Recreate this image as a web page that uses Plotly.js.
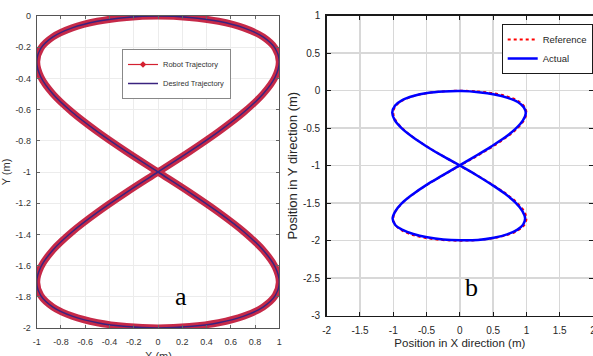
<!DOCTYPE html>
<html>
<head>
<meta charset="utf-8">
<script src="https://cdn.plot.ly/plotly-3.0.1.min.js"></script>
<style>html,body{margin:0;padding:0;background:#fff;}#chart{width:593px;height:356px;}</style>
</head>
<body>
<div id="chart"></div>
<script>
// ---- Panel a: desired / robot trajectory ----
const desiredX = [0, 0.259, 0.5, 0.707, 0.866, 0.966, 1, 0.966, 0.866, 0.707, 0.5, 0.259, 0,
  -0.259, -0.5, -0.707, -0.866, -0.966, -1, -0.966, -0.866, -0.707, -0.5, -0.259, 0,
  0.259, 0.5, 0.707, 0.866, 0.966, 1, 0.966, 0.866, 0.707, 0.5, 0.259, 0,
  -0.259, -0.5, -0.707, -0.866, -0.966, -1, -0.966, -0.866, -0.707, -0.5, -0.259, 0];
const desiredY = [0, -0.009, -0.034, -0.076, -0.134, -0.207, -0.293, -0.391, -0.5, -0.617, -0.741, -0.870, -1,
  -1.130, -1.259, -1.383, -1.5, -1.609, -1.707, -1.793, -1.866, -1.924, -1.966, -1.991, -2,
  -1.991, -1.966, -1.924, -1.866, -1.793, -1.707, -1.609, -1.5, -1.383, -1.259, -1.130, -1,
  -0.870, -0.741, -0.617, -0.5, -0.391, -0.293, -0.207, -0.134, -0.076, -0.034, -0.009, 0];
const robotX = desiredX;
const robotY = desiredY;

// ---- Panel b: reference / actual ----
const refX = desiredX;
const refY = desiredY;
const actX = [0.03, 0.28, 0.52, 0.72, 0.87, 0.96, 0.99, 0.945, 0.835, 0.675, 0.47, 0.235, -0.01,
  -0.26, -0.5, -0.705, -0.87, -0.97, -1.01, -0.97, -0.86, -0.70, -0.49, -0.25, 0.01,
  0.27, 0.51, 0.71, 0.86, 0.95, 0.98, 0.94, 0.84, 0.68, 0.475, 0.24, -0.005,
  -0.26, -0.505, -0.715, -0.875, -0.98, -1.015, -0.975, -0.865, -0.70, -0.49, -0.25, 0.03];
const actY = [-0.005, -0.02, -0.05, -0.095, -0.15, -0.22, -0.30, -0.40, -0.51, -0.625, -0.745, -0.872, -1.0,
  -1.13, -1.255, -1.38, -1.5, -1.61, -1.705, -1.79, -1.855, -1.91, -1.955, -1.985, -1.995,
  -1.99, -1.96, -1.915, -1.855, -1.785, -1.70, -1.605, -1.495, -1.375, -1.25, -1.12, -0.995,
  -0.87, -0.74, -0.615, -0.5, -0.39, -0.29, -0.2, -0.125, -0.07, -0.03, -0.01, -0.005];

// ---- tick labels ----
const aXTicks = [-1, -0.8, -0.6, -0.4, -0.2, 0, 0.2, 0.4, 0.6, 0.8, 1];
const aXTickText = ['-1', '-0.8', '-0.6', '-0.4', '-0.2', '0', '0.2', '0.4', '0.6', '0.8', '1'];
const aYTicks = [0, -0.2, -0.4, -0.6, -0.8, -1, -1.2, -1.4, -1.6, -1.8, -2];
const aYTickText = ['0', '-0.2', '-0.4', '-0.6', '-0.8', '-1', '-1.2', '-1.4', '-1.6', '-1.8', '-2'];
const bXTicks = [-2, -1.5, -1, -0.5, 0, 0.5, 1, 1.5, 2];
const bXTickText = ['-2', '-1.5', '-1', '-0.5', '0', '0.5', '1', '1.5', '2'];
const bYTicks = [1, 0.5, 0, -0.5, -1, -1.5, -2, -2.5, -3];
const bYTickText = ['1', '0.5', '0', '-0.5', '-1', '-1.5', '-2', '-2.5', '-3'];

const sans = '"Liberation Sans", Arial, sans-serif';

const traces = [
  {x: robotX, y: robotY, xaxis: 'x', yaxis: 'y', mode: 'lines', showlegend: false,
   line: {color: 'rgba(192,18,52,0.9)', width: 7, shape: 'spline'}, hoverinfo: 'skip'},
  {x: [null], y: [null], xaxis: 'x', yaxis: 'y', mode: 'lines+markers', name: 'Robot Trajectory',
   legend: 'legend', line: {color: '#d42030', width: 1.2}, marker: {color: '#d42030', size: 5, symbol: 'diamond'}},
  {x: desiredX, y: desiredY, xaxis: 'x', yaxis: 'y', mode: 'lines', name: 'Desired Trajectory',
   legend: 'legend', line: {color: '#3a237f', width: 1.5, shape: 'spline'}},
  {x: refX, y: refY, xaxis: 'x2', yaxis: 'y2', mode: 'lines', name: 'Reference',
   legend: 'legend2', line: {color: '#ff0000', width: 2, dash: 'dot', shape: 'spline'}},
  {x: actX, y: actY, xaxis: 'x2', yaxis: 'y2', mode: 'lines', name: 'Actual',
   legend: 'legend2', line: {color: '#0000ff', width: 2.5, shape: 'spline'}}
];

const layout = {
  width: 593, height: 356,
  margin: {l: 0, r: 0, t: 0, b: 0},
  paper_bgcolor: '#fff', plot_bgcolor: '#fff',
  showlegend: true,
  xaxis: {domain: [36.7/593, 279.3/593], range: [-1, 1], tickvals: aXTicks, ticktext: aXTickText,
    showgrid: true, gridcolor: '#ececec', gridwidth: 1, zeroline: false,
    showline: true, mirror: 'ticks', linecolor: '#555', linewidth: 1,
    ticks: 'inside', ticklen: 3, tickcolor: '#666', ticklabelstandoff: 5,
    tickfont: {family: sans, size: 9, color: '#333'}},
  yaxis: {domain: [1 - 328/356, 1 - 16/356], range: [-2, 0], tickvals: aYTicks, ticktext: aYTickText,
    showgrid: true, gridcolor: '#ececec', gridwidth: 1, zeroline: false,
    showline: true, mirror: 'ticks', linecolor: '#555', linewidth: 1,
    ticks: 'inside', ticklen: 3, tickcolor: '#666', ticklabelstandoff: 3,
    tickfont: {family: sans, size: 9, color: '#333'},
    title: {text: 'Y (m)', font: {family: sans, size: 11, color: '#333'}, standoff: 3}},
  xaxis2: {domain: [326.7/593, 1], range: [-2, 2], tickvals: bXTicks, ticktext: bXTickText,
    anchor: 'y2', showgrid: true, gridcolor: '#d8d8d8', gridwidth: 1.5, zeroline: false,
    showline: true, mirror: 'ticks', linecolor: '#1a1a1a', linewidth: 1.5,
    ticks: 'inside', ticklen: 4, tickcolor: '#1a1a1a', ticklabelstandoff: 5,
    ticklabeloverflow: 'allow',
    tickfont: {family: sans, size: 10, color: '#262626'},
    title: {text: 'Position in X direction (m)', font: {family: sans, size: 11.5, color: '#262626'}, standoff: 3}},
  yaxis2: {domain: [1 - 315.7/356, 1 - 15.7/356], range: [-3, 1], tickvals: bYTicks, ticktext: bYTickText,
    anchor: 'x2', showgrid: true, gridcolor: '#d8d8d8', gridwidth: 1.5, zeroline: false,
    showline: true, mirror: 'ticks', linecolor: '#1a1a1a', linewidth: 1.5,
    ticks: 'inside', ticklen: 4, tickcolor: '#1a1a1a', ticklabelstandoff: 3,
    ticklabeloverflow: 'allow',
    tickfont: {family: sans, size: 10, color: '#262626'},
    title: {text: 'Position in Y direction (m)', font: {family: sans, size: 13, color: '#262626'}, standoff: 2}},
  legend: {x: 122/593, y: 1 - 49/356, xanchor: 'left', yanchor: 'top',
    bgcolor: '#fff', bordercolor: '#888', borderwidth: 1,
    font: {family: sans, size: 7.5, color: '#333'}, tracegroupgap: 0, itemwidth: 30},
  legend2: {x: 501.7/593, y: 1 - 24/356, xanchor: 'left', yanchor: 'top',
    bgcolor: '#fff', bordercolor: '#1a1a1a', borderwidth: 1,
    font: {family: sans, size: 9.5, color: '#262626'}, tracegroupgap: 0, itemwidth: 30},
  annotations: [
    {text: 'X (m)', xref: 'paper', yref: 'paper', x: 158/593, y: 1 - 347.5/356, xanchor: 'center', yanchor: 'top',
     showarrow: false, font: {family: sans, size: 11, color: '#333'}},
    {text: 'a', xref: 'paper', yref: 'paper', x: 180.7/593, y: 1 - 296/356, xanchor: 'center', yanchor: 'middle',
     showarrow: false, font: {family: '"Liberation Serif", "DejaVu Serif", serif', size: 26, color: '#000'}},
    {text: 'b', xref: 'paper', yref: 'paper', x: 471.7/593, y: 1 - 287/356, xanchor: 'center', yanchor: 'middle',
     showarrow: false, font: {family: '"Liberation Serif", "DejaVu Serif", serif', size: 26, color: '#000'}}
  ]
};

Plotly.newPlot('chart', traces, layout, {displayModeBar: false, staticPlot: true});
</script>
</body>
</html>
